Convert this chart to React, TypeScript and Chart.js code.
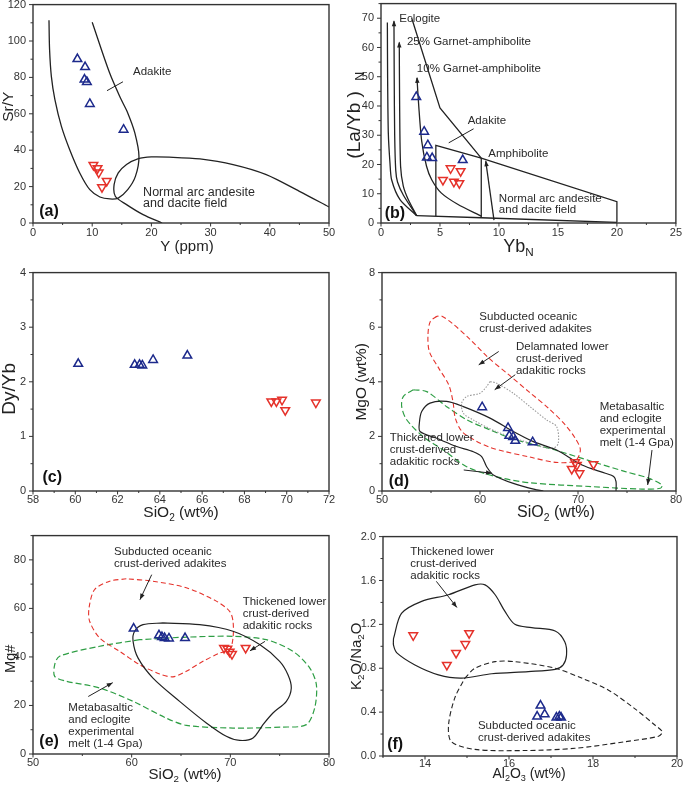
import React, { useEffect, useRef } from "react";
import { Chart, registerables } from "chart.js";

Chart.register(...registerables);

const FONT = '"Liberation Sans", Arial, Helvetica, sans-serif';
const BLUE = "#1d2a8c";
const RED = "#e5322b";
const BLACK = "#222222";
const GREEN = "#2e9e44";
const GRAY = "#9a9a9a";

type XY = [number, number];

// ---------- Panel (a): Sr/Y vs Y ----------
const aXTicks = [0, 10, 20, 30, 40, 50];
const aYTicks = [0, 20, 40, 60, 80, 100, 120];
const aBlueX = [7.5, 8.8, 8.7, 9.1, 9.6, 15.3];
const aBlueY = [90.1, 85.7, 78.8, 77.5, 65.4, 51.3];
const aRedX = [10.2, 10.9, 11.1, 12.45, 11.65];
const aRedY = [31.9, 30.1, 27.7, 23.1, 19.7];
const aAdakite: XY[] = [[2.7, 111.4], [2.8, 95.3], [3.1, 80.6], [3.7, 67.8], [4.8, 53.1], [6.2, 40.3], [7.9, 27.5], [9.6, 18.3], [11.3, 14.3], [13.0, 13.2], [14.4, 13.7], [16.0, 18.3], [17.3, 25.6], [17.9, 36.6], [17.2, 49.5], [16.0, 60.5], [14.9, 67.8], [12.95, 82.4], [10.0, 110.3]];
const aNormal: XY[] = [[50, 8.8], [45, 17.4], [39.4, 26.6], [33.8, 32.1], [28.2, 35.2], [23, 36.2], [20.0, 36.3], [17.7, 35.2], [15.8, 32.1], [14.4, 27.5], [13.7, 21.1], [13.9, 14.7], [15.8, 10.1], [18.6, 4.6], [21.8, 0]];

// ---------- Panel (b): (La/Yb)N vs YbN ----------
const bXTicks = [0, 5, 10, 15, 20, 25];
const bYTicks = [0, 10, 20, 30, 40, 50, 60, 70];
const bBlueX = [2.99, 3.66, 3.97, 3.89, 4.34, 6.93];
const bBlueY = [43.1, 31.2, 26.6, 22.4, 22.2, 21.5];
const bRedX = [5.9, 6.75, 5.25, 6.18, 6.64];
const bRedY = [18.7, 17.7, 14.7, 14.1, 13.6];
const bCurve0: XY[] = [[0.54, 68.5], [0.56, 50], [0.62, 30.8], [0.76, 20.6], [0.9, 14.8], [1.61, 8], [3.02, 2.5]];
const bEclogite: XY[] = [[1.1, 69], [1.12, 50], [1.16, 30], [1.25, 18], [1.4, 14], [1.9, 9.5], [3.02, 2.5]];
const bGt25: XY[] = [[1.55, 61.7], [1.58, 40], [1.66, 19.4], [1.89, 12.6], [2.31, 8], [3.02, 2.5]];
const bGt10: XY[] = [[3.05, 49.6], [3.2, 40], [3.45, 28], [3.86, 19.4], [4.3, 14.8], [5.1, 10.3], [6.5, 6.4], [8.5, 2.3]];
const bAdakiteTop: XY[] = [[2.6, 70.1], [5.0, 39.3], [8.5, 22.2]];
const bBox: XY[] = [[4.65, 2.3], [4.65, 26.5], [8.5, 22.2], [20, 7.3], [20, 0.2]];
const bAdakiteRight: XY[] = [[8.5, 22.2], [8.5, 1.8]];
const bBottom: XY[] = [[3.02, 2.5], [8.5, 1.8], [20, 0.2]];
const bAmphibolite: XY[] = [[8.88, 21.1], [9.58, 1.0]];

// ---------- Panel (c): Dy/Yb vs SiO2 ----------
const cXTicks = [58, 60, 62, 64, 66, 68, 70, 72];
const cYTicks = [0, 1, 2, 3, 4];
const cBlueX = [60.14, 62.81, 63.04, 63.17, 63.68, 65.3];
const cBlueY = [2.33, 2.31, 2.31, 2.3, 2.4, 2.48];
const cRedX = [69.27, 69.51, 69.78, 69.93, 71.38];
const cRedY = [1.64, 1.64, 1.67, 1.48, 1.62];

// ---------- Panel (d): MgO vs SiO2 ----------
const dXTicks = [50, 60, 70, 80];
const dYTicks = [0, 2, 4, 6, 8];
const dBlueX = [60.22, 62.86, 62.99, 63.38, 63.6, 65.37];
const dBlueY = [3.07, 2.31, 2.02, 1.98, 1.84, 1.79];
const dRedX = [69.36, 69.7, 69.88, 70.15, 71.58];
const dRedY = [0.81, 1.05, 0.95, 0.65, 0.98];
const dSubducted: XY[] = [[55.6, 6.4], [54.93, 6.21], [54.69, 5.72], [54.83, 5.11], [55.79, 4.5], [56.81, 3.89], [57.24, 3.28], [57.48, 2.67], [58.16, 2.18], [59.5, 1.85], [61, 1.6], [62.5, 1.45], [65, 1.25], [67.7, 1.05], [69.7, 1.1], [70.24, 1.5], [69.72, 1.93], [68.7, 2.42], [67.0, 3.03], [64.97, 3.64], [62.93, 4.26], [60.89, 4.87], [58.85, 5.6], [57.14, 6.15], [56.12, 6.4], [55.6, 6.4]];
const dDelaminated: XY[] = [[61.02, 4.01], [60.68, 3.83], [60.0, 3.58], [58.64, 3.46], [58.13, 3.22], [58.3, 2.85], [59.32, 2.6], [61.5, 2.2], [64.08, 1.87], [66.12, 1.63], [67.48, 1.57], [67.99, 1.75], [67.82, 2.36], [66.8, 2.6], [65.1, 3.09], [63.4, 3.58], [61.7, 3.95], [61.02, 4.01]];
const dMetabasalt: XY[] = [[53.2, 3.71], [52.17, 3.46], [52.01, 3.09], [52.52, 2.61], [54.21, 1.99], [56.26, 1.5], [58.64, 0.89], [61.7, 0.52], [65.1, 0.3], [71.43, 0.16], [76.53, 0.07], [78.4, 0.1], [78.57, 0.22], [77.21, 0.47], [74.83, 0.71], [71.43, 1.08], [67.68, 1.5], [65.79, 1.68], [63.4, 1.9], [61.02, 2.24], [58.64, 2.61], [56.6, 3.09], [54.56, 3.64], [53.2, 3.71]];
const dThickened: XY[] = [[73.88, 0], [73.88, 0.34], [73.64, 0.53], [72.79, 0.65], [70.41, 0.95], [67.82, 1.5], [65.44, 1.81], [63.4, 2.18], [61.02, 2.67], [58.3, 3.09], [56.6, 3.28], [54.9, 3.22], [54.05, 2.91], [53.81, 2.48], [53.88, 2.18], [55.58, 1.93], [57.62, 1.63], [59.32, 1.44], [60.17, 1.26], [60.68, 0.89], [61.36, 0.59], [63.4, 0.28], [65.79, 0.04], [66.47, 0]];

// ---------- Panel (e): Mg# vs SiO2 ----------
const eXTicks = [50, 60, 70, 80];
const eYTicks = [0, 20, 40, 60, 80];
const eBlueX = [60.2, 62.77, 63.07, 63.34, 63.78, 65.41];
const eBlueY = [51.7, 48.9, 48.2, 47.8, 47.6, 47.8];
const eRedX = [69.36, 69.7, 69.93, 70.17, 71.55];
const eRedY = [43.7, 43.4, 42.1, 41.2, 43.7];
const eSubducted: XY[] = [[59.46, 72.2], [57.77, 71.2], [56.25, 67.8], [55.68, 60.2], [55.74, 54.7], [56.76, 47.8], [58.78, 42.3], [60.81, 36.8], [62.84, 33.0], [64.19, 31.8], [65.54, 34.1], [67.23, 38.2], [68.92, 41.6], [69.93, 43.0], [70.27, 47.8], [70.27, 54.7], [69.93, 58.8], [68.58, 63.0], [65.54, 68.5], [62.16, 71.2], [59.46, 72.2]];
const eThickened: XY[] = [[63.18, 54.0], [61.15, 53.3], [60.3, 50.6], [60.14, 46.5], [60.64, 39.6], [62.16, 31.3], [64.86, 21.7], [67.57, 12.8], [69.59, 7.3], [70.95, 5.6], [72.3, 6.6], [73.31, 12.1], [74.32, 16.9], [75.68, 21.7], [76.18, 27.2], [75.84, 32.7], [75.0, 38.2], [72.97, 45.1], [70.27, 50.6], [66.89, 53.3], [63.18, 54.0]];
const eMetabasalt: XY[] = [[60.81, 47.1], [56.76, 44.4], [52.7, 40.3], [52.2, 36.8], [52.2, 32.0], [53.38, 30.0], [56.76, 27.2], [60.14, 21.7], [63.51, 14.8], [65.54, 11.8], [70.27, 10.7], [75.34, 11.1], [77.7, 12.1], [78.55, 19.0], [78.72, 28.6], [78.04, 35.5], [76.35, 42.3], [73.65, 47.1], [70.27, 48.5], [65.2, 48.1], [60.81, 47.1]];

// ---------- Panel (f): K2O/Na2O vs Al2O3 ----------
const fXTicks = [14, 16, 18, 20];
const fYTicks = [0, 0.4, 0.8, 1.2, 1.6, 2.0];
const fRedX = [13.72, 14.52, 14.74, 14.96, 15.05];
const fRedY = [1.1, 0.83, 0.94, 1.02, 1.12];
const fBlueX = [16.75, 16.67, 16.85, 17.13, 17.2, 17.24];
const fBlueY = [0.46, 0.36, 0.38, 0.35, 0.36, 0.35];
const fThickened: XY[] = [[13.25, 1.07], [13.44, 1.3], [13.92, 1.41], [14.56, 1.47], [15.19, 1.56], [15.43, 1.56], [15.67, 1.47], [15.9, 1.32], [16.14, 1.2], [16.54, 1.17], [17.1, 1.14], [17.33, 1.04], [17.37, 0.92], [17.29, 0.83], [17.1, 0.79], [16.46, 0.77], [15.59, 0.75], [14.87, 0.71], [14.32, 0.74], [13.76, 0.83], [13.33, 0.94], [13.25, 1.01], [13.25, 1.07]];
const fSubducted: XY[] = [[14.95, 0.71], [15.19, 0.8], [15.67, 0.86], [16.14, 0.86], [17.1, 0.8], [17.73, 0.71], [18.37, 0.6], [19.0, 0.43], [19.48, 0.28], [19.65, 0.22], [19.56, 0.18], [18.76, 0.13], [17.57, 0.07], [16.38, 0.05], [15.19, 0.06], [14.63, 0.13], [14.56, 0.28], [14.71, 0.53], [14.95, 0.71]];

// ---------- helpers ----------
const toPts = (xs: number[], ys: number[]) => xs.map((x, i) => ({ x, y: ys[i] }));
const toPath = (p: XY[]) => p.map(([x, y]) => ({ x, y }));

const markers = (xs: number[], ys: number[], color: string, down: boolean) => ({
  data: toPts(xs, ys),
  showLine: false,
  pointStyle: "triangle",
  pointRotation: down ? 180 : 0,
  pointRadius: 5,
  pointBorderWidth: 1.5,
  pointBorderColor: color,
  pointBackgroundColor: "rgba(0,0,0,0)",
  borderColor: color,
  backgroundColor: "rgba(0,0,0,0)",
});

const path = (p: XY[], color: string, dash: number[], tension = 0.3, width = 1.3) => ({
  data: toPath(p),
  showLine: true,
  fill: false,
  pointRadius: 0,
  pointHitRadius: 0,
  borderColor: color,
  borderWidth: width,
  borderDash: dash,
  tension,
});

type Seg = [string, boolean];
interface Panel {
  key: string;
  rect: { l: number; t: number; r: number; b: number };
  yw: number; padR: number; xh: number; xPad: number;
  xMin: number; xMax: number; yMin: number; yMax: number;
  xTicks: number[]; yTicks: number[]; yDec: number;
  xTitle: Seg[]; yTitle: Seg[]; xTitleOff: XY; yTitleOff: XY; xSize: number; ySize: number;
  label: string; labelAt: XY;
  datasets: any[];
  texts: { at: XY; lines: string[]; lh?: number; size?: number }[];
  arrows: { from: XY; to: XY; head: boolean }[];
  tipPaths: XY[][];
}

const LAYOUT_TOP = 10; // layout padding given to Chart.js
const CANVAS_TOP = 14; // resulting offset of chart area inside canvas

const panels: Panel[] = [
  {
    key: "a", rect: { l: 33, t: 5, r: 329, b: 223 }, yw: 33, padR: 12, xh: 36, xPad: 3,
    xMin: 0, xMax: 50, yMin: 0, yMax: 120, xTicks: aXTicks, yTicks: aYTicks, yDec: 0,
    xTitle: [["Y (ppm)", false]], yTitle: [["Sr/Y", false]], xTitleOff: [6, 24], yTitleOff: [-24, -7], xSize: 15, ySize: 15.5,
    label: "(a)", labelAt: [1.06, 6.1],
    datasets: [
      markers(aBlueX, aBlueY, BLUE, false), markers(aRedX, aRedY, RED, true),
      path(aAdakite, BLACK, []), path(aNormal, BLACK, []),
    ],
    texts: [
      { at: [16.9, 83.1], lines: ["Adakite"] },
      { at: [18.6, 16.5], lines: ["Normal arc andesite", "and dacite field"], lh: 11, size: 12.5 },
    ],
    arrows: [{ from: [12.5, 72.7], to: [15.2, 77.6], head: false }],
    tipPaths: [],
  },
  {
    key: "b", rect: { l: 381, t: 4, r: 677, b: 223 }, yw: 38, padR: 8, xh: 36, xPad: 3,
    xMin: 0, xMax: 25, yMin: 0, yMax: 75, xTicks: bXTicks, yTicks: bYTicks, yDec: 0,
    xTitle: [["Yb", false], ["N", true]], yTitle: [["(La/Yb )", false], ["   ", true], ["N", true]], xTitleOff: [-10, 24], yTitleOff: [-26, 2], xSize: 18, ySize: 19,
    label: "(b)", labelAt: [0.31, 3.3],
    datasets: [
      markers(bBlueX, bBlueY, BLUE, false), markers(bRedX, bRedY, RED, true),
      path(bCurve0, BLACK, [], 0.25), path(bEclogite, BLACK, [], 0.25), path(bGt25, BLACK, [], 0.25),
      path(bGt10, BLACK, [], 0.25), path(bAdakiteTop, BLACK, [], 0), path(bBox, BLACK, [], 0),
      path(bAdakiteRight, BLACK, [], 0), path(bBottom, BLACK, [], 0), path(bAmphibolite, BLACK, [], 0),
    ],
    texts: [
      { at: [1.55, 69.9], lines: ["Eclogite"] },
      { at: [2.2, 62.1], lines: ["25% Garnet-amphibolite"] },
      { at: [3.04, 52.6], lines: ["10% Garnet-amphibolite"] },
      { at: [7.35, 35.0], lines: ["Adakite"] },
      { at: [9.1, 23.6], lines: ["Amphibolite"] },
      { at: [9.99, 8.2], lines: ["Normal arc andesite", "and dacite field"], lh: 11 },
    ],
    arrows: [{ from: [5.74, 27.4], to: [7.85, 32.2], head: false }],
    tipPaths: [bEclogite, bGt25, bGt10, bAmphibolite],
  },
  {
    key: "c", rect: { l: 33, t: 273, r: 329, b: 491 }, yw: 33, padR: 12, xh: 31, xPad: 2,
    xMin: 58, xMax: 72, yMin: 0, yMax: 4, xTicks: cXTicks, yTicks: cYTicks, yDec: 0,
    xTitle: [["SiO", false], ["2", true], [" (wt%)", false]], yTitle: [["Dy/Yb", false]], xTitleOff: [0, 22], yTitleOff: [-23, 7], xSize: 15.5, ySize: 19,
    label: "(c)", labelAt: [58.45, 0.25],
    datasets: [markers(cBlueX, cBlueY, BLUE, false), markers(cRedX, cRedY, RED, true)],
    texts: [], arrows: [], tipPaths: [],
  },
  {
    key: "d", rect: { l: 382, t: 273, r: 676, b: 491 }, yw: 38, padR: 9, xh: 31, xPad: 2,
    xMin: 50, xMax: 80, yMin: 0, yMax: 8, xTicks: dXTicks, yTicks: dYTicks, yDec: 0,
    xTitle: [["SiO", false], ["2", true], [" (wt%)", false]], yTitle: [["MgO (wt%)", false]], xTitleOff: [27, 22], yTitleOff: [-20, 0], xSize: 16, ySize: 15.5,
    label: "(d)", labelAt: [50.68, 0.34],
    datasets: [
      markers(dBlueX, dBlueY, BLUE, false), markers(dRedX, dRedY, RED, true),
      path(dThickened, BLACK, [], 0.3, 1.2), path(dSubducted, RED, [5, 3], 0.3, 1.1),
      path(dDelaminated, GRAY, [1.5, 1.5], 0.3, 1.1), path(dMetabasalt, GREEN, [6, 3], 0.3, 1.2),
    ],
    texts: [
      { at: [59.93, 6.37], lines: ["Subducted oceanic", "crust-derived adakites"] },
      { at: [63.67, 5.28], lines: ["Delamnated lower", "crust-derived", "adakitic rocks"] },
      { at: [72.21, 3.09], lines: ["Metabasaltic", "and eclogite", "experimental", "melt (1-4 Gpa)"] },
      { at: [50.79, 1.93], lines: ["Thickened lower", "crust-derived", "adakitic rocks"] },
    ],
    arrows: [
      { from: [61.91, 5.11], to: [59.87, 4.62], head: true },
      { from: [63.6, 4.26], to: [61.5, 3.71], head: true },
      { from: [77.55, 1.5], to: [77.11, 0.22], head: true },
      { from: [58.34, 0.77], to: [61.22, 0.65], head: true },
    ],
    tipPaths: [],
  },
  {
    key: "e", rect: { l: 33, t: 536, r: 329, b: 754 }, yw: 33, padR: 12, xh: 30, xPad: 2,
    xMin: 50, xMax: 80, yMin: 0, yMax: 90, xTicks: eXTicks, yTicks: eYTicks, yDec: 0,
    xTitle: [["SiO", false], ["2", true], [" (wt%)", false]], yTitle: [["Mg#", false]], xTitleOff: [4, 21], yTitleOff: [-22, 14], xSize: 15, ySize: 14.5,
    label: "(e)", labelAt: [50.64, 5.1],
    datasets: [
      markers(eBlueX, eBlueY, BLUE, false), markers(eRedX, eRedY, RED, true),
      path(eThickened, BLACK, [], 0.3, 1.2), path(eSubducted, RED, [5, 3], 0.3, 1.1),
      path(eMetabasalt, GREEN, [6, 3], 0.3, 1.2),
    ],
    texts: [
      { at: [58.21, 83.5], lines: ["Subducted oceanic", "crust-derived adakites"] },
      { at: [71.25, 62.9], lines: ["Thickened lower", "crust-derived", "adakitic rocks"] },
      { at: [53.58, 19.1], lines: ["Metabasaltic", "and eclogite", "experimental", "melt (1-4 Gpa)"] },
    ],
    arrows: [
      { from: [62.03, 73.9], to: [60.84, 63.6], head: true },
      { from: [73.51, 46.4], to: [71.99, 42.5], head: true },
      { from: [55.6, 23.7], to: [58.08, 29.4], head: true },
    ],
    tipPaths: [],
  },
  {
    key: "f", rect: { l: 383, t: 537, r: 677, b: 756 }, yw: 38, padR: 8, xh: 29, xPad: 1,
    xMin: 13, xMax: 20, yMin: 0, yMax: 2, xTicks: fXTicks, yTicks: fYTicks, yDec: 1,
    xTitle: [["Al", false], ["2", true], ["O", false], ["3", true], [" (wt%)", false]],
    yTitle: [["K", false], ["2", true], ["O/Na", false], ["2", true], ["O", false]],
    xTitleOff: [-1, 18], yTitleOff: [-26, 10], xSize: 14, ySize: 15,
    label: "(f)", labelAt: [13.1, 0.107],
    datasets: [
      markers(fBlueX, fBlueY, BLUE, false), markers(fRedX, fRedY, RED, true),
      path(fThickened, BLACK, [], 0.3, 1.2), path(fSubducted, BLACK, [5, 3], 0.3, 1.1),
    ],
    texts: [
      { at: [13.65, 1.857], lines: ["Thickened lower", "crust-derived", "adakitic rocks"] },
      { at: [15.26, 0.271], lines: ["Subducted oceanic", "crust-derived adakites"] },
    ],
    arrows: [{ from: [14.27, 1.592], to: [14.76, 1.354], head: true }],
    tipPaths: [],
  },
];

function drawSegs(ctx: CanvasRenderingContext2D, segs: Seg[], cx: number, cy: number, size: number, rotate: boolean) {
  ctx.save();
  ctx.translate(cx, cy);
  if (rotate) ctx.rotate(-Math.PI / 2);
  const widths = segs.map(([t, sub]) => {
    ctx.font = `${sub ? size * 0.65 : size}px ${FONT}`;
    return ctx.measureText(t).width;
  });
  const total = widths.reduce((s, w) => s + w, 0);
  let x = -total / 2;
  ctx.textBaseline = "middle";
  ctx.textAlign = "left";
  ctx.fillStyle = "#222";
  segs.forEach(([t, sub], i) => {
    ctx.font = `${sub ? size * 0.65 : size}px ${FONT}`;
    ctx.fillText(t, x, sub ? size * 0.32 : 0);
    x += widths[i];
  });
  ctx.restore();
}

function arrowHead(ctx: CanvasRenderingContext2D, x1: number, y1: number, x2: number, y2: number, len = 6, half = 2.4) {
  const a = Math.atan2(y2 - y1, x2 - x1);
  ctx.beginPath();
  ctx.moveTo(x2, y2);
  ctx.lineTo(x2 - len * Math.cos(a) + half * Math.sin(a), y2 - len * Math.sin(a) - half * Math.cos(a));
  ctx.lineTo(x2 - len * Math.cos(a) - half * Math.sin(a), y2 - len * Math.sin(a) + half * Math.cos(a));
  ctx.closePath();
  ctx.fill();
}

function minorValues(ticks: number[], min: number, max: number) {
  const step = ticks[1] - ticks[0];
  const out: number[] = [];
  for (let v = ticks[0] - step / 2; v >= min - 1e-9; v -= step) out.push(v);
  for (let v = ticks[0] + step / 2; v <= max + 1e-9; v += step) out.push(v);
  return out;
}

function makeDecor(p: Panel) {
  return {
    id: "decor_" + p.key,
    afterDatasetsDraw(chart: any) {
      const { ctx, chartArea: ca, scales } = chart;
      const sx = scales.x;
      const sy = scales.y;
      const px = (v: number) => sx.getPixelForValue(v);
      const py = (v: number) => sy.getPixelForValue(v);
      ctx.save();
      // frame
      ctx.strokeStyle = "#333";
      ctx.lineWidth = 1.4;
      ctx.setLineDash([]);
      ctx.strokeRect(ca.left, ca.top, ca.right - ca.left, ca.bottom - ca.top);
      // ticks (outward)
      ctx.lineWidth = 1;
      ctx.beginPath();
      sx.ticks.forEach((t: any) => { const x = px(t.value); ctx.moveTo(x, ca.bottom); ctx.lineTo(x, ca.bottom + 3.5); });
      sy.ticks.forEach((t: any) => { const y = py(t.value); ctx.moveTo(ca.left, y); ctx.lineTo(ca.left - 4, y); });
      minorValues(p.xTicks, p.xMin, p.xMax).forEach((v) => { const x = px(v); ctx.moveTo(x, ca.bottom); ctx.lineTo(x, ca.bottom + 2); });
      minorValues(p.yTicks, p.yMin, p.yMax).forEach((v) => { const y = py(v); ctx.moveTo(ca.left, y); ctx.lineTo(ca.left - 2.5, y); });
      ctx.stroke();
      // arrowheads at curve tips
      ctx.fillStyle = BLACK;
      p.tipPaths.forEach((path) => {
        const [a, b] = [path[0], path[1]];
        arrowHead(ctx, px(b[0]), py(b[1]), px(a[0]), py(a[1]) - 1, 6, 2.2);
      });
      // annotation arrows
      ctx.strokeStyle = BLACK;
      ctx.lineWidth = 1;
      p.arrows.forEach((ar) => {
        const x1 = px(ar.from[0]), y1 = py(ar.from[1]), x2 = px(ar.to[0]), y2 = py(ar.to[1]);
        ctx.beginPath();
        ctx.moveTo(x1, y1);
        ctx.lineTo(x2, y2);
        ctx.stroke();
        if (ar.head) arrowHead(ctx, x1, y1, x2, y2, 6, 2.3);
      });
      // texts
      ctx.fillStyle = "#2a2a2a";
      ctx.textBaseline = "middle";
      ctx.textAlign = "left";
      p.texts.forEach((t) => {
        ctx.font = `${t.size ?? 11.5}px ${FONT}`;
        const x = px(t.at[0]), y = py(t.at[1]);
        const lh = t.lh ?? 12;
        t.lines.forEach((line, i) => ctx.fillText(line, x, y + i * lh));
      });
      // panel label
      ctx.font = `bold 16px ${FONT}`;
      ctx.fillStyle = "#111";
      ctx.fillText(p.label, px(p.labelAt[0]), py(p.labelAt[1]));
      // axis titles
      const cxm = (ca.left + ca.right) / 2;
      const cym = (ca.top + ca.bottom) / 2;
      drawSegs(ctx, p.xTitle, cxm + p.xTitleOff[0], ca.bottom + p.xTitleOff[1], p.xSize, false);
      drawSegs(ctx, p.yTitle, ca.left + p.yTitleOff[0], cym + p.yTitleOff[1], p.ySize, true);
      ctx.restore();
    },
  };
}

function PanelChart({ p }: { p: Panel }) {
  const ref = useRef<HTMLCanvasElement | null>(null);
  const w = p.yw + (p.rect.r - p.rect.l) + p.padR;
  const h = CANVAS_TOP + (p.rect.b - p.rect.t) + p.xh;
  const left = p.rect.l - p.yw;
  const top = p.rect.t - CANVAS_TOP;

  useEffect(() => {
    if (!ref.current) return;
    const tickFont = { family: FONT, size: 11 };
    const chart = new Chart(ref.current, {
      type: "scatter",
      data: { datasets: p.datasets as any },
      options: {
        animation: false,
        responsive: false,
        maintainAspectRatio: false,
        devicePixelRatio: 1,
        events: [],
        layout: { padding: { left: 0, top: LAYOUT_TOP, right: p.padR, bottom: 0 } },
        plugins: { legend: { display: false }, tooltip: { enabled: false }, title: { display: false } },
        scales: {
          x: {
            type: "linear", min: p.xMin, max: p.xMax,
            afterBuildTicks: (s: any) => { s.ticks = p.xTicks.map((v) => ({ value: v })); },
            afterFit: (s: any) => { s.height = p.xh; },
            grid: { display: false, drawTicks: false },
            border: { display: false },
            ticks: { padding: p.xPad, font: tickFont, color: "#333", maxRotation: 0, autoSkip: false, callback: (v: any) => String(v) },
          },
          y: {
            type: "linear", min: p.yMin, max: p.yMax,
            afterBuildTicks: (s: any) => { s.ticks = p.yTicks.map((v) => ({ value: v })); },
            afterFit: (s: any) => { s.width = p.yw; },
            grid: { display: false, drawTicks: false },
            border: { display: false },
            ticks: { padding: 7, font: tickFont, color: "#333", autoSkip: false, callback: (v: any) => Number(v).toFixed(p.yDec) },
          },
        },
      } as any,
      plugins: [makeDecor(p)],
    });
    return () => chart.destroy();
  }, [p]);

  return (
    <canvas
      ref={ref}
      width={w}
      height={h}
      style={{ position: "absolute", left, top, width: w, height: h }}
    />
  );
}

export default function App() {
  return (
    <div style={{ position: "absolute", left: 0, top: 0, width: 685, height: 785, background: "#fff", overflow: "hidden" }}>
      {panels.map((p) => (
        <PanelChart key={p.key} p={p} />
      ))}
    </div>
  );
}
